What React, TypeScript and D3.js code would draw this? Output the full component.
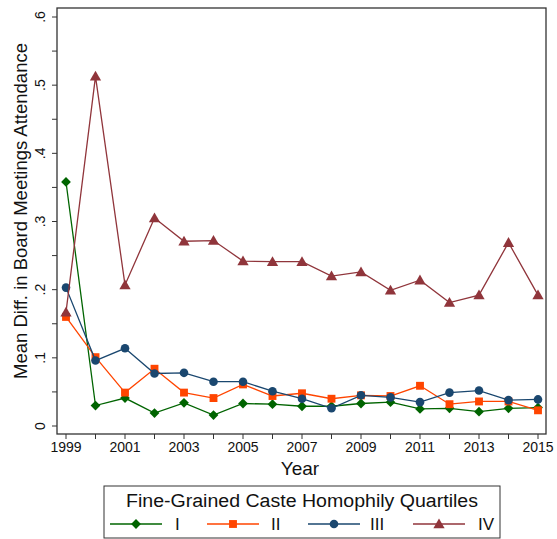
import React from "react";
import * as d3 from "d3";

const years = [1999,2000,2001,2002,2003,2004,2005,2006,2007,2008,2009,2010,2011,2012,2013,2014,2015];
const seriesI = [0.358,0.030,0.041,0.019,0.034,0.016,0.033,0.032,0.029,0.029,0.033,0.035,0.025,0.026,0.021,0.026,0.027];
const seriesII = [0.160,0.101,0.049,0.084,0.049,0.041,0.061,0.044,0.048,0.040,0.045,0.044,0.059,0.032,0.036,0.036,0.023];
const seriesIII = [0.203,0.096,0.114,0.077,0.078,0.065,0.065,0.051,0.040,0.026,0.045,0.042,0.035,0.049,0.052,0.038,0.039];
const seriesIV = [0.167,0.513,0.207,0.305,0.271,0.272,0.242,0.241,0.241,0.220,0.226,0.199,0.214,0.181,0.192,0.269,0.192];
const seriesNames = ["I","II","III","IV"];
const yTickLabels = ["0",".1",".2",".3",".4",".5",".6"];
const xTickLabelYears = [1999,2001,2003,2005,2007,2009,2011,2013,2015];

const colors = ["#006400","#FF4500","#1A476F","#90353B"];
const symbols = [d3.symbolSquare, d3.symbolSquare, d3.symbolCircle, d3.symbolTriangle];
const symRot = [45, 0, 0, 0];
const symSizes = [48, 62, 58, 55];

const W = 557, H = 539;
const left = 57, right = 546, top = 8, bottom = 434;
const x = d3.scaleLinear().domain([1999, 2015]).range([66, 538]);
const y = d3.scaleLinear().domain([0, 0.6]).range([426, 17]);
const font = "'Liberation Sans', Arial, sans-serif";

function Marker({ k, cx, cy }: { k: number; cx: number; cy: number }) {
  const d = d3.symbol().type(symbols[k]).size(symSizes[k])() || "";
  const dy = k === 3 ? 1 : 0;
  return <path d={d} transform={`translate(${cx},${cy + dy}) rotate(${symRot[k]})`} fill={colors[k]} />;
}

export default function App() {
  const all = [seriesI, seriesII, seriesIII, seriesIV];
  const line = d3.line<number>().x((_, i) => x(years[i])).y((d) => y(d));
  const yTicks = d3.range(0, 0.6001, 0.05);
  const legendItems = [
    { lx: 110, tx: 175 },
    { lx: 207, tx: 271 },
    { lx: 308, tx: 370 },
    { lx: 413, tx: 478 },
  ];
  return (
    <svg width={W} height={H} style={{ position: "absolute", left: 0, top: 0, background: "#fff" }} fontFamily={font}>
      <rect x={0} y={0} width={W} height={H} fill="#fff" />
      <rect x={left} y={top} width={right - left} height={bottom - top} fill="none" stroke="#333" strokeWidth={1.3} />
      {yTicks.map((t, i) => (
        <line key={"yt" + i} x1={left - 5} x2={left} y1={y(t)} y2={y(t)} stroke="#333" strokeWidth={1} />
      ))}
      {yTickLabels.map((lab, i) => (
        <text key={"yl" + i} transform={`translate(${left - 12},${y(i / 10)}) rotate(-90)`} textAnchor="middle" fontSize={14} fill="#111">
          {lab}
        </text>
      ))}
      <text transform={`translate(27,${211}) rotate(-90)`} textAnchor="middle" fontSize={18.5} fill="#111">
        Mean Diff. in Board Meetings Attendance
      </text>
      {years.map((yr) => (
        <line key={"xt" + yr} x1={x(yr)} x2={x(yr)} y1={bottom} y2={bottom + 5} stroke="#333" strokeWidth={1} />
      ))}
      {xTickLabelYears.map((yr) => (
        <text key={"xl" + yr} x={x(yr)} y={bottom + 18} textAnchor="middle" fontSize={14} fill="#111">
          {yr}
        </text>
      ))}
      <text x={300} y={475} textAnchor="middle" fontSize={19} fill="#111">Year</text>
      {all.map((s, k) => (
        <g key={"s" + k}>
          <path d={line(s) || ""} fill="none" stroke={colors[k]} strokeWidth={1.3} />
          {s.map((v, i) => (
            <Marker key={i} k={k} cx={x(years[i])} cy={y(v)} />
          ))}
        </g>
      ))}
      <rect x={104} y={486} width={396} height={52} fill="#fff" stroke="#333" strokeWidth={1} />
      <text x={302} y={506.5} textAnchor="middle" fontSize={18} textLength={352} lengthAdjust="spacingAndGlyphs" fill="#111">
        Fine-Grained Caste Homophily Quartiles
      </text>
      {legendItems.map((it, k) => (
        <g key={"lg" + k}>
          <line x1={it.lx} x2={it.lx + 52} y1={524} y2={524} stroke={colors[k]} strokeWidth={1.3} />
          <Marker k={k} cx={it.lx + 26} cy={524} />
          <text x={it.tx} y={530} fontSize={17} fill="#111">{seriesNames[k]}</text>
        </g>
      ))}
    </svg>
  );
}
